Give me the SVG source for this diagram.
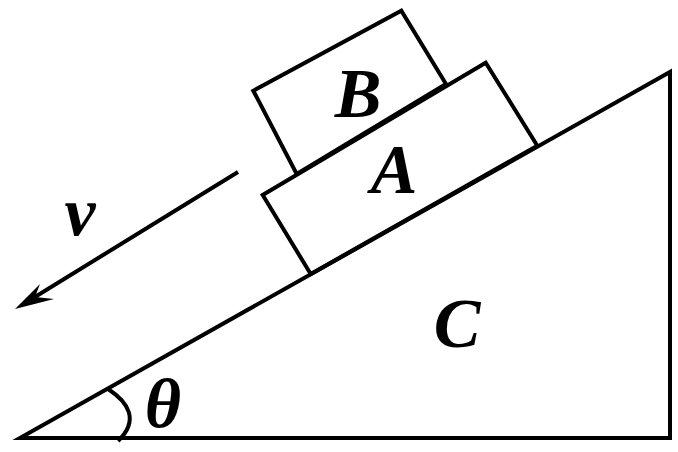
<svg xmlns="http://www.w3.org/2000/svg" width="678" height="452" viewBox="0 0 678 452">
<style>
.ln{fill:none;stroke:#000;stroke-width:4;stroke-linejoin:miter}
.lb{font-family:"Liberation Serif","Times New Roman",serif;font-style:italic;font-weight:bold;font-size:70px;fill:#000;text-anchor:middle}
</style>
<rect width="678" height="452" fill="#fff"/>
<g id="C">
<polygon class="ln" points="20,438 670,72 670,438"/>
<text class="lb" x="457" y="347">C</text>
</g>
<g id="A">
<polygon class="ln" points="310.7,274 262.7,195 485.7,62.7 537.3,145.7" fill="#fff"/>
<text class="lb" x="394" y="193">A</text>
</g>
<g id="B">
<polygon class="ln" points="296.7,174 253.3,90.7 401.3,10.7 446,84" fill="#fff"/>
<text class="lb" x="358" y="117">B</text>
</g>
<g id="angle">
<path class="ln" d="M108,389 C128,402 140,420 118,441" stroke-width="3"/>
<text class="lb" x="163" y="427">θ</text>
</g>
<g id="connectors">
<line class="ln" x1="238" y1="172" x2="30" y2="300"/>
<path d="M15,309 L40,284 L35,297 L54,299 Z" fill="#000"/>
<text class="lb" x="80" y="235">v</text>
</g>
</svg>
